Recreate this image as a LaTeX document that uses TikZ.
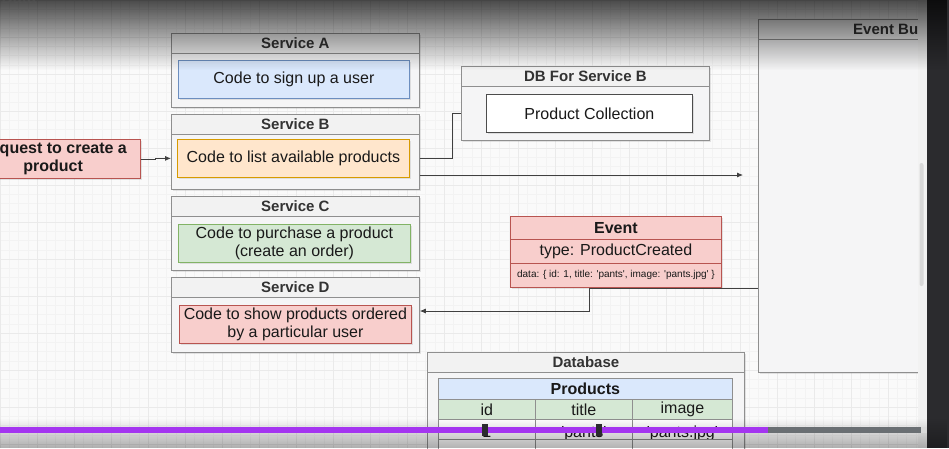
\documentclass[tikz,border=0pt]{standalone}
\usepackage{fontspec}
\setmainfont{Liberation Sans}
\usetikzlibrary{arrows.meta,shadows,fadings}
\definecolor{pane}{HTML}{FAFAFA}
\definecolor{gridminor}{HTML}{F3F3F3}
\definecolor{gridmajor}{HTML}{EAEAEA}
\definecolor{frameline}{HTML}{8F8F8F}
\definecolor{frametop}{HTML}{F2F2F2}
\definecolor{framefill}{HTML}{F5F5F6}
\definecolor{bluefill}{HTML}{DAE8FC}
\definecolor{blueline}{HTML}{6C8EBF}
\definecolor{orangefill}{HTML}{FFE6CC}
\definecolor{orangeline}{HTML}{D79B00}
\definecolor{greenfill}{HTML}{D5E8D4}
\definecolor{greenline}{HTML}{82B366}
\definecolor{redfill}{HTML}{F8CECC}
\definecolor{redline}{HTML}{B85450}
\definecolor{udemy}{HTML}{A435F0}
\definecolor{track}{HTML}{6A6F73}
\definecolor{player}{HTML}{2B2B2E}
\begin{document}
\begin{tikzpicture}[x=1pt,y=-1pt,
  frame/.style={draw=frameline, fill=framefill, line width=0.8pt, anchor=north west, inner sep=0pt,
    drop shadow={shadow xshift=1.5pt, shadow yshift=-1.5pt, opacity=0.2}},
  framehead/.style={draw=frameline, fill=frametop, line width=0.8pt, anchor=north west, inner sep=0pt,
    minimum height=20pt, text=black!80, font=\fontsize{15}{17}\selectfont\bfseries},
  code/.style={draw, line width=0.8pt, anchor=north west, inner sep=0pt, align=center,
    text=black!90, font=\fontsize{16}{18}\selectfont,
    drop shadow={shadow xshift=1.5pt, shadow yshift=-1.5pt, opacity=0.2}},
  cell/.style={draw=frameline, line width=0.8pt, anchor=north west, inner sep=0pt,
    minimum width=97pt, minimum height=20pt, text=black!90, font=\fontsize{16}{18}\selectfont},
  link/.style={draw=black!75, line width=0.8pt},
  arr/.style={link, -{Latex[length=6pt,width=5pt]}},
]
\useasboundingbox (0,0) rectangle (949,448);
\clip (0,0) rectangle (949,448);
\fill[pane] (0,0) rectangle (949,448);
\foreach \gx in {0,9.25,...,949} \draw[gridminor, line width=0.4pt] (\gx,0) -- (\gx,448);
\foreach \gy in {0,9.25,...,448} \draw[gridminor, line width=0.4pt] (0,\gy) -- (949,\gy);
\foreach \gx in {0,37,...,949} \draw[gridmajor, line width=0.4pt] (\gx,0) -- (\gx,448);
\foreach \gy in {0,37,...,448} \draw[gridmajor, line width=0.4pt] (0,\gy) -- (949,\gy);

\begin{scope}
\clip (-50,0) rectangle (918,448);
\node[white, anchor=base west, font=\fontsize{16}{18}\selectfont\bfseries] (title) at (-2,3) {Data};

\node[frame, minimum width=248pt, minimum height=74pt] (svcA) at (171,33) {};
\node[framehead, minimum width=248pt] (svcAhead) at (171,33) {Service A};
\node[code, fill=bluefill, draw=blueline, minimum width=231pt, minimum height=38pt] (codeA) at (178,60) {Code to sign up a user};

\node[frame, minimum width=248pt, minimum height=75pt] (svcB) at (171,114) {};
\node[framehead, minimum width=248pt] (svcBhead) at (171,114) {Service B};
\node[code, fill=orangefill, draw=orangeline, minimum width=232pt, minimum height=38pt] (codeB) at (177,139) {Code to list available products};

\node[frame, minimum width=248pt, minimum height=74pt] (svcC) at (171,196) {};
\node[framehead, minimum width=248pt] (svcChead) at (171,196) {Service C};
\node[code, fill=greenfill, draw=greenline, minimum width=232pt, minimum height=38pt] (codeC) at (178,224) {Code to purchase a product\\(create an order)};

\node[frame, minimum width=248pt, minimum height=75pt] (svcD) at (171,277) {};
\node[framehead, minimum width=248pt] (svcDhead) at (171,277) {Service D};
\node[code, fill=redfill, draw=redline, minimum width=232pt, minimum height=38pt] (codeD) at (179,305) {Code to show products ordered\\by a particular user};

\node[code, fill=redfill, draw=redline, anchor=east, minimum width=175pt, minimum height=39pt,
  font=\fontsize{16}{18}\selectfont\bfseries] (req) at (141,159) {Request to create a\\product};

\node[frame, minimum width=248pt, minimum height=74pt] (dbB) at (461,66) {};
\node[framehead, minimum width=248pt] (dbBhead) at (461,66) {DB For Service B};
\node[code, fill=white, draw=black!70, minimum width=206pt, minimum height=38pt] (coll) at (486,94) {Product Collection};

\node[code, fill=redfill, draw=redline, minimum width=211pt, minimum height=23pt,
  font=\fontsize{16}{18}\selectfont\bfseries] (evt) at (510,216) {Event};
\node[code, fill=redfill, draw=redline, minimum width=211pt, minimum height=24pt] (evttype) at (510,239) {type: ProductCreated};
\node[code, fill=redfill, draw=redline, minimum width=211pt, minimum height=24pt,
  font=\fontsize{10}{12}\selectfont] (evtdata) at (510,263)
  {data: \{ id: 1, title: \textquotesingle pants\textquotesingle, image: \textquotesingle pants.jpg\textquotesingle\ \}};

\node[frame, minimum width=263pt, minimum height=353pt] (bus) at (758,19) {};
\node[framehead, minimum width=263pt] (bushead) at (758,19) {Event Bus};

\node[frame, minimum width=317pt, minimum height=150pt] (db) at (427,352) {};
\node[framehead, minimum width=317pt] (dbhead) at (427,352) {Database};
\node[cell, fill=bluefill, minimum width=294pt, minimum height=21pt,
  font=\fontsize{16}{18}\selectfont\bfseries] (prods) at (438,378) {Products};
\node[cell, fill=greenfill] (colid) at (438,399) {id};
\node[cell, fill=greenfill] (coltitle) at (535,399) {title};
\node[cell, fill=greenfill, minimum width=100pt] (colimage) at (632,399) {image};
\node[cell, fill=white, text depth=0pt, text height=16pt] (rowid) at (438,419) {1};
\node[cell, fill=white, text depth=0pt, text height=16pt] (rowtitle) at (535,419) {\textquotesingle pants\textquotesingle};
\node[cell, fill=white, text depth=0pt, text height=16pt, minimum width=100pt] (rowimage) at (632,419) {\textquotesingle pants.jpg\textquotesingle};
\node[cell, fill=white] (nextid) at (438,439) {};
\node[cell, fill=white] (nexttitle) at (535,439) {};
\node[cell, fill=white, minimum width=100pt] (nextimage) at (632,439) {};

\coordinate (busin) at (743,175);
\coordinate (bend) at (589,288);
\coordinate (dback) at (589,311);
\path[arr] (req.east) -- ++(14,0) |- (codeB.west -| svcB.west);
\path[link] (codeB.east -| svcB.east) -- ++(33,0) |- (coll.west -| dbB.west);
\path[arr] (busin -| svcB.east) -- (busin);
\path[arr] (bus.west |- bend) -- (bend) -- (dback) -- (dback -| svcD.east);
\end{scope}

\fill[black!5] (918,0) rectangle (927,448);
\fill[black!15, rounded corners=2pt] (919.5,163) rectangle (923.5,286);
\fill[player] (927,0) rectangle (949,448);

\fill[black, opacity=0.7, path fading=south] (0,0) rectangle (949,70);
\fill[black, opacity=0.3, path fading=north] (0,418) rectangle (949,448);

\fill[udemy] (0,427) rectangle (768,433);
\fill[track] (768,427) rectangle (921,433);
\fill[black!15] (921,427) rectangle (927,433);
\fill[player] (482,424) rectangle (488,436);
\fill[player] (596,424) rectangle (602,436);
\end{tikzpicture}
\end{document}
